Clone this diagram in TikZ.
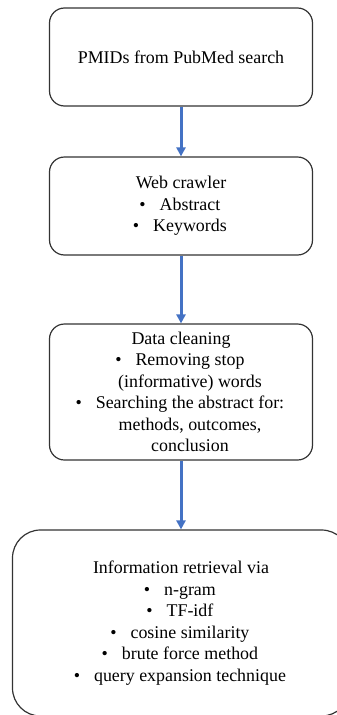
\documentclass[tikz,border=0pt]{standalone}
\usepackage{fontspec}
\setmainfont{Liberation Serif}
\usetikzlibrary{arrows.meta}
\definecolor{arrowblue}{HTML}{4472C4}
\newcommand{\itm}[1]{\hspace*{18pt}\llap{\textbullet\hspace{14pt}}#1}
\newcommand{\cnt}[1]{\hspace*{18pt}#1}

\begin{document}
\begin{tikzpicture}[x=1pt, y=1pt,
	box/.style={draw=black!80, line width=1.2pt, rounded corners=15pt, minimum width=263pt,
		align=center, inner sep=0pt, font=\fontsize{17.9}{21.5}\selectfont},
	flow/.style={draw=arrowblue, line width=3pt, -{Triangle[width=9pt, length=9pt]}}]
	\useasboundingbox (0, 0) rectangle (337, -715);
	\clip (0, 0) rectangle (337, -715);
	\node[box, minimum height=98pt] (pmid) at (181, -57) {PMIDs from PubMed search};
	\node[box, minimum height=98pt] (crawler) at (181, -206) {Web crawler\\ \itm{Abstract}\\ \itm{Keywords}};
	\node[box, minimum height=136pt] (cleaning) at (181, -392) {Data cleaning\\ \itm{Removing stop}\\
		\cnt{(informative) words}\\ \itm{Searching the abstract for:}\\ \cnt{methods, outcomes,}\\ \cnt{conclusion}};
	\node[box, minimum height=186pt, minimum width=337pt, rounded corners=28pt] (retrieval) at (181, -623)
		{Information retrieval via\\ \itm{n-gram}\\ \itm{TF-idf}\\ \itm{cosine similarity}\\
		\itm{brute force method}\\ \itm{query expansion technique}};
	\draw[flow] (pmid) -- (crawler);
	\draw[flow] (crawler) -- (cleaning);
	\draw[flow] (cleaning) -- (retrieval);
\end{tikzpicture}
\end{document}
